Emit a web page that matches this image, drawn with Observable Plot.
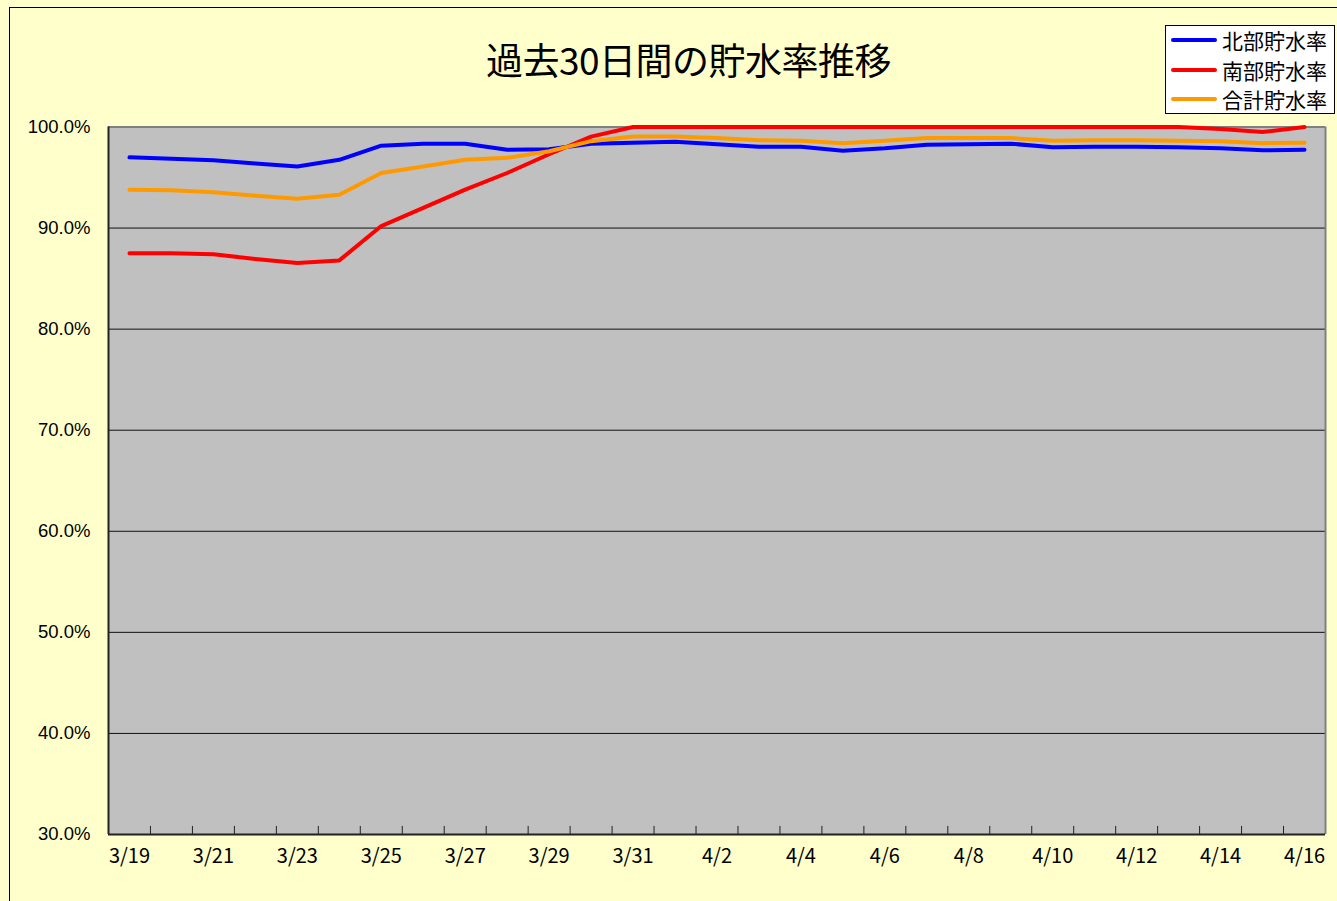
<!DOCTYPE html>
<html>
<head>
<meta charset="utf-8">
<script src="https://cdn.jsdelivr.net/npm/d3@7"></script>
<script src="https://cdn.jsdelivr.net/npm/@observablehq/plot@0.6"></script>
<style>
  html, body { margin: 0; padding: 0; background: #FFFFCC; }
  body { width: 1337px; height: 901px; position: relative; overflow: hidden; font-family: "Noto Sans CJK JP", sans-serif; }
  #frame { position: absolute; left: 9px; top: 7px; right: -5px; bottom: -5px; border-top: 1px solid #000; border-left: 1px solid #000; }
  #chart { position: absolute; left: 0; top: 0; }
  #title { position: absolute; left: 486px; top: 35px; font-size: 37px; line-height: 48px; color: #000; white-space: nowrap; letter-spacing: -0.5px; }
  #legend { position: absolute; left: 1165px; top: 25px; width: 170px; height: 89px; background: #fff; border: 1px solid #000; box-sizing: border-box; }
  .item { position: absolute; left: 0; height: 30px; display: flex; align-items: center; }
  .swatch { width: 46px; height: 4px; margin-left: 5px; margin-right: 5px; border-radius: 2px; }
  .lab { font-size: 21px; color: #000; letter-spacing: 0px; }
</style>
</head>
<body>
<div id="frame"></div>
<div id="chart"></div>
<div id="title">過去30日間の貯水率推移</div>
<div id="legend"></div>
<script>
const dates = ["3/19","3/20","3/21","3/22","3/23","3/24","3/25","3/26","3/27","3/28","3/29","3/30","3/31",
  "4/1","4/2","4/3","4/4","4/5","4/6","4/7","4/8","4/9","4/10","4/11","4/12","4/13","4/14","4/15","4/16"];
const north = [97.0, 96.85, 96.7, 96.4, 96.1, 96.75, 98.15, 98.35, 98.35, 97.75, 97.8, 98.35, 98.45, 98.55, 98.3,
  98.05, 98.05, 97.65, 97.9, 98.25, 98.3, 98.35, 98.0, 98.05, 98.05, 98.0, 97.9, 97.7, 97.75];
const south = [87.5, 87.5, 87.4, 86.95, 86.55, 86.8, 90.2, 92.0, 93.8, 95.45, 97.3, 99.05, 100, 100, 100,
  100, 100, 100, 100, 100, 100, 100, 100, 100, 100, 100, 99.8, 99.5, 100];
const total = [93.8, 93.75, 93.55, 93.2, 92.9, 93.3, 95.45, 96.1, 96.75, 96.95, 97.6, 98.6, 99.05, 99.05, 98.9,
  98.7, 98.65, 98.4, 98.65, 98.9, 98.9, 98.9, 98.65, 98.7, 98.7, 98.65, 98.6, 98.4, 98.45];
const seriesNames = ["北部貯水率", "南部貯水率", "合計貯水率"];
const seriesColors = ["#0000FF", "#FF0000", "#FF9900"];
const yTicks = [30, 40, 50, 60, 70, 80, 90, 100];

const seriesValues = [north, south, total];
const rows = [];
seriesNames.forEach((name, s) => seriesValues[s].forEach((v, i) => rows.push({series: name, i, v})));

const n = dates.length;
const xMin = -0.5, xMax = n - 0.5;
const boundaries = d3.range(1, n).map(i => i - 0.5);
const labelIdx = d3.range(0, n, 2);
const yMin = yTicks[0], yMax = yTicks[yTicks.length - 1];

const chart = Plot.plot({
  width: 1337,
  height: 901,
  marginTop: 126.5,
  marginBottom: 67,
  marginLeft: 108,
  marginRight: 12,
  style: { background: "transparent", fontFamily: "Liberation Sans, Arial, sans-serif" },
  x: { domain: [xMin, xMax] },
  y: { domain: [yMin, yMax] },
  color: { domain: seriesNames, range: seriesColors },
  marks: [
    Plot.frame({ fill: "#C0C0C0", stroke: "none" }),
    Plot.ruleY(yTicks.slice(1, -1), { stroke: "#111", strokeWidth: 1 }),
    Plot.ruleY([yMax], { stroke: "#808080", strokeWidth: 2 }),
    Plot.ruleX([xMax], { stroke: "#808080", strokeWidth: 2 }),
    Plot.ruleX(boundaries, { x: d => d, y1: yMin, y2: yMin + 0.8, stroke: "#222", strokeWidth: 1 }),
    Plot.ruleY([yMin], { stroke: "#222", strokeWidth: 2 }),
    Plot.ruleX([xMin], { stroke: "#222", strokeWidth: 2 }),
    Plot.axisY({ ticks: yTicks, tickSize: 0, tickPadding: 18, tickFormat: d => d.toFixed(1) + "%",
      fontSize: 18.5, fill: "#000", label: null }),
    Plot.axisX({ ticks: labelIdx, tickSize: 0, tickPadding: 14, tickFormat: i => dates[i],
      fontSize: 20, fill: "#000", label: null, fontFamily: "Noto Sans CJK JP, sans-serif", style: "letter-spacing:2.5px" }),
    Plot.line(rows, { x: "i", y: "v", z: "series", stroke: "series", strokeWidth: 4, curve: "linear" })
  ]
});
document.getElementById("chart").appendChild(chart);

const legend = document.getElementById("legend");
seriesNames.forEach((name, s) => {
  const item = document.createElement("div");
  item.className = "item";
  item.style.top = (-1 + s * 29.5) + "px";
  const sw = document.createElement("div");
  sw.className = "swatch";
  sw.style.background = seriesColors[s];
  const lab = document.createElement("span");
  lab.className = "lab";
  lab.textContent = name;
  item.appendChild(sw);
  item.appendChild(lab);
  legend.appendChild(item);
});
</script>
</body>
</html>
